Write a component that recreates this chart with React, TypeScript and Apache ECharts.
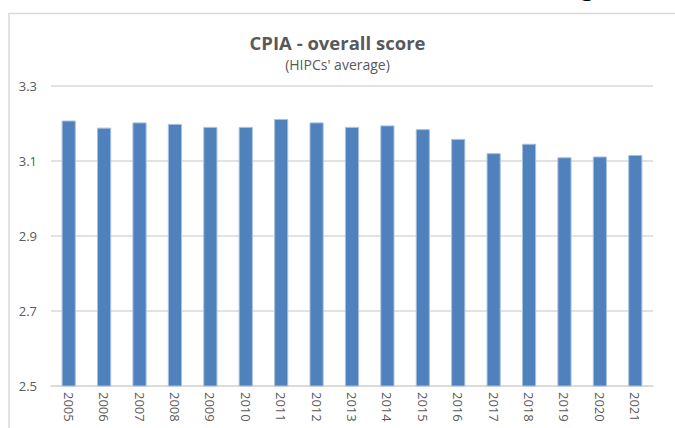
import React, { useEffect, useRef } from "react";
import * as echarts from "echarts";

const years = ["2005","2006","2007","2008","2009","2010","2011","2012","2013","2014","2015","2016","2017","2018","2019","2020","2021"];
const scores = [3.208,3.189,3.203,3.199,3.191,3.191,3.212,3.203,3.191,3.195,3.185,3.159,3.121,3.146,3.110,3.112,3.116];
const yTicks = { min: 2.5, max: 3.3, step: 0.2 };
const titleText = "CPIA - overall score";
const subtitleText = "(HIPCs' average)";

export default function App() {
  const ref = useRef<HTMLDivElement>(null);
  useEffect(() => {
    if (!ref.current) return;
    const chart = echarts.init(ref.current, null, { renderer: "svg" });
    chart.setOption({
      animation: false,
      backgroundColor: "#ffffff",
      title: {
        text: titleText,
        subtext: subtitleText,
        left: "center",
        top: 28,
        itemGap: 5,
        textStyle: { fontFamily: "Open Sans", fontWeight: "bold", fontSize: 18.5, color: "#595959" },
        subtextStyle: { fontFamily: "Open Sans", fontSize: 14, color: "#595959" },
      },
      graphic: [
        {
          type: "rect",
          shape: { x: 9, y: 13.5, width: 700, height: 430 },
          style: { fill: "none", stroke: "#d9d9d9", lineWidth: 1.5 },
          silent: true,
        },
        {
          type: "text",
          x: 580,
          y: -28.5,
          style: { text: "g", font: "28px 'Liberation Serif'", fill: "#000000" },
          silent: true,
        },
      ],
      grid: { left: 51, right: 22, top: 86, bottom: 42, containLabel: false },
      xAxis: {
        type: "category",
        data: years,
        axisLine: { lineStyle: { color: "#d9d9d9", width: 1.5 } },
        axisTick: { show: false },
        axisLabel: {
          rotate: -90,
          margin: 6,
          color: "#595959",
          fontFamily: "Open Sans",
          fontSize: 13,
          interval: 0,
        },
      },
      yAxis: {
        type: "value",
        min: yTicks.min,
        max: yTicks.max,
        interval: yTicks.step,
        axisLine: { show: false },
        axisTick: { show: false },
        splitLine: { lineStyle: { color: "#d9d9d9", width: 1.5 } },
        axisLabel: {
          margin: 14,
          color: "#595959",
          fontFamily: "Open Sans",
          fontSize: 13,
          formatter: (v: number) => v.toFixed(1),
        },
      },
      series: [
        {
          type: "bar",
          data: scores,
          barWidth: "40%",
          itemStyle: { color: "#4f81bd", borderColor: "#a7c0de", borderWidth: 1 },
        },
      ],
    });
    return () => chart.dispose();
  }, []);
  return (
    <div
      ref={ref}
      style={{ position: "fixed", left: 0, top: 0, width: 675, height: 428 }}
    />
  );
}
